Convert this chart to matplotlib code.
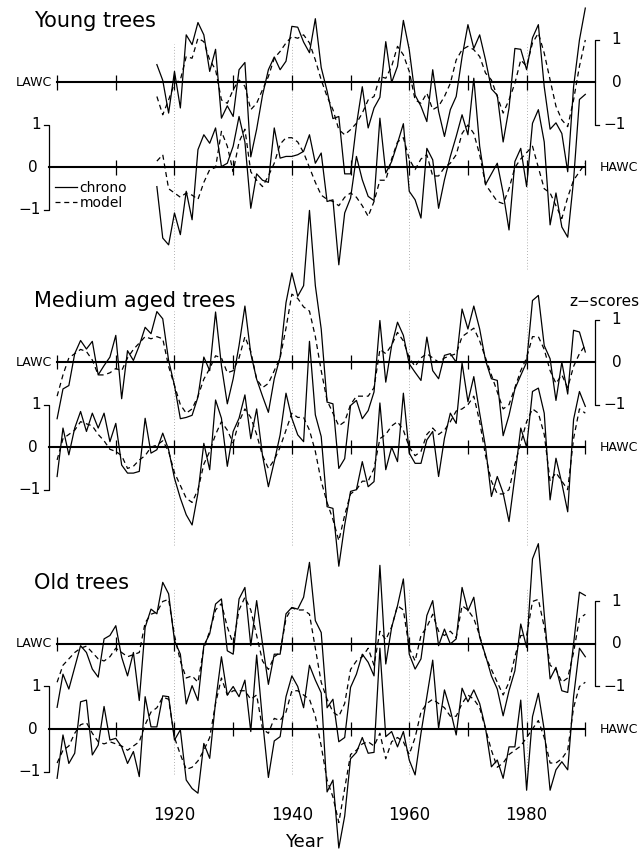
import matplotlib.pyplot as plt
import numpy as np
from matplotlib.lines import Line2D

years = np.arange(1900, 1991)
years_young = np.arange(1917, 1991)

# z-scores
young_lawc_chrono = [
    0.42, 0.05, -0.72, 0.26, -0.60, 1.12, 0.89, 1.41, 1.12, 0.26,
    0.78, -0.84, -0.55, -0.80, 0.30, 0.47, -1.75, -1.10, -0.30, 0.30,
    0.60, 0.30, 0.50, 1.32, 1.30, 0.95, 0.70, 1.50, 0.35, -0.20,
    -0.85, -0.80, -2.15, -2.15, -1.00, -0.10, -1.07, -0.60, -0.35, 0.96,
    0.00, 0.38, 1.46, 0.77, -0.30, -0.56, -0.92, 0.30, -0.68, -1.27,
    -0.64, -0.33, 0.60, 1.36, 0.80, 1.12, 0.53, -0.15, -0.30, -1.40,
    -0.60, 0.80, 0.78, 0.30, 1.05, 1.36, -0.10, -1.10, -0.95, -1.20,
    -2.10, -0.10, 1.00, 1.75]
young_lawc_model = [
    -0.33, -0.76, -0.41, -0.02, 0.06, 0.61, 0.57, 1.04, 0.96, 0.53,
    0.30, -0.41, -0.49, -0.17, 0.06, -0.09, -0.64, -0.49, -0.17, 0.14,
    0.57, 0.73, 0.93, 1.08, 1.04, 1.12, 0.93, 0.53, 0.06, -0.33,
    -0.64, -1.11, -1.23, -1.11, -0.96, -0.72, -0.41, -0.33, 0.14, 0.10,
    0.38, 0.85, 0.65, 0.26, -0.41, -0.49, -0.25, -0.64, -0.56, -0.33,
    -0.02, 0.53, 0.77, 0.85, 0.77, 0.61, 0.22, 0.06, -0.33, -0.72,
    -0.41, -0.02, 0.53, 0.38, 0.93, 1.16, 0.69, 0.06, -0.56, -0.88,
    -1.04, -0.41, 0.38, 1.00]
young_hawc_chrono = [
    -0.45, -1.66, -1.82, -1.07, -1.58, -0.56, -1.23, 0.42, 0.77, 0.57,
    0.93, 0.02, 0.10, 0.50, 1.20, 0.60, -0.96, -0.15, -0.30, -0.35,
    0.93, 0.22, 0.26, 0.26, 0.30, 0.38, 0.77, 0.10, 0.34, -0.80,
    -0.76, -2.29, -1.07, -0.72, 0.26, -0.29, -0.68, -0.78, 1.16, -0.13,
    0.14, 0.57, 1.03, -0.56, -0.76, -1.19, 0.45, 0.18, -0.96, -0.29,
    0.26, 0.73, 1.24, 0.77, 2.10, 0.50, -0.40, -0.15, 0.10, -0.60,
    -1.47, 0.14, 0.45, -0.45, 1.04, 1.36, 0.60, -1.35, -0.60, -1.40,
    -1.64, -0.30, 1.60, 1.72]
young_hawc_model = [
    0.15, 0.30, -0.50, -0.60, -0.70, -0.60, -0.65, -0.75, -0.35, -0.05,
    0.00, 0.85, 0.50, -0.10, 0.60, 0.90, -0.10, -0.30, -0.45, -0.20,
    0.10, 0.55, 0.70, 0.70, 0.60, 0.35, 0.00, -0.35, -0.65, -0.75,
    -0.80, -0.90, -0.70, -0.60, -0.70, -0.90, -1.15, -0.80, -0.30, -0.30,
    0.20, 0.60, 0.70, 0.20, -0.05, 0.20, 0.30, -0.20, -0.20, 0.00,
    0.10, 0.30, 0.80, 1.00, 0.80, 0.30, -0.40, -0.60, -0.80, -0.85,
    -0.50, 0.00, 0.20, 0.35, 0.50, 0.00, -0.50, -0.60, -0.90, -1.20,
    -0.70, -0.30, -0.10, 0.10]

medium_lawc_chrono = [
    -1.33, -0.63, -0.55, 0.20, 0.51, 0.31, 0.49, -0.30, -0.08, 0.12,
    0.63, -0.86, 0.27, 0.04, 0.39, 0.82, 0.67, 1.19, 1.02, 0.04,
    -0.55, -1.33, -1.30, -1.25, -0.82, 0.12, -0.20, 1.18, -0.08, -0.98,
    -0.39, 0.39, 1.32, 0.20, -0.40, -0.80, -1.18, -0.39, 0.12, 1.40,
    2.10, 1.55, 1.80, 3.57, 1.80, 0.78, -0.94, -0.98, -2.50, -2.27,
    -1.02, -0.90, -1.33, -1.14, -0.70, 0.98, -0.47, 0.39, 0.94, 0.63,
    -0.04, -0.24, -0.43, 0.59, -0.20, -0.39, 0.16, 0.20, 0.00, 1.25,
    0.78, 1.32, 0.78, 0.04, -0.39, -0.43, -1.73, -1.25, -0.63, -0.31,
    0.00, 1.45, 1.57, 0.39, 0.08, -0.90, 0.00, -0.75, 0.75, 0.71,
    0.24]
medium_lawc_model = [
    -0.80, -0.30, 0.10, 0.20, 0.30, 0.25, 0.05, -0.30, -0.30, -0.25,
    -0.15, -0.20, 0.10, 0.30, 0.45, 0.60, 0.55, 0.60, 0.55, -0.10,
    -0.55, -1.00, -1.20, -1.10, -0.80, -0.40, -0.15, 0.15, 0.10, -0.25,
    -0.20, 0.10, 0.60, 0.25, -0.40, -0.60, -0.50, -0.20, 0.10, 0.80,
    1.60, 1.50, 1.30, 1.20, 0.60, -0.20, -0.90, -1.20, -1.50, -1.40,
    -1.00, -0.80, -0.80, -0.80, -0.60, 0.30, 0.20, 0.40, 0.70, 0.50,
    0.10, -0.10, 0.10, 0.20, 0.10, 0.00, 0.10, 0.15, 0.20, 0.60,
    0.70, 0.80, 0.50, 0.10, -0.30, -0.70, -1.10, -1.00, -0.60, -0.20,
    0.10, 0.60, 0.60, 0.30, -0.20, -0.50, -0.30, -0.60, -0.10, 0.20,
    0.40]
medium_hawc_chrono = [
    -0.69, 0.45, -0.18, 0.45, 0.84, 0.37, 0.80, 0.45, 0.80, 0.13,
    0.56, -0.42, -0.61, -0.61, -0.57, 0.68, -0.14, -0.06, 0.33, -0.06,
    -0.73, -1.20, -1.59, -1.83, -1.08, 0.09, -0.53, 1.11, 0.68, -0.45,
    0.37, 0.68, 1.23, 0.20, 0.90, -0.20, -0.93, -0.34, 0.29, 1.27,
    0.68, 0.29, 0.13, 2.49, 0.76, 0.25, -1.40, -1.44, -2.80, -1.83,
    -1.04, -1.00, -0.34, -0.93, -0.81, 1.04, -0.53, 0.00, -0.34, 1.27,
    -0.14, -0.38, -0.38, 0.17, 0.37, -0.69, 0.21, 0.80, 0.56, 1.98,
    1.07, 1.66, 0.80, 0.00, -1.16, -0.69, -1.08, -1.75, -0.69, 0.45,
    0.00, 1.31, 1.39, 0.80, -1.24, -0.26, -0.85, -1.52, 0.65, 1.31,
    0.96]
medium_hawc_model = [
    -0.30, 0.20, 0.30, 0.40, 0.60, 0.55, 0.50, 0.30, 0.15, -0.05,
    -0.10, -0.20, -0.50, -0.45, -0.30, -0.20, 0.00, 0.05, 0.15, -0.10,
    -0.60, -0.90, -1.20, -1.30, -1.00, -0.40, -0.10, 0.30, 0.60, 0.40,
    0.10, 0.60, 0.90, 0.70, 0.30, -0.20, -0.50, -0.30, 0.00, 0.40,
    0.80, 0.70, 0.70, 0.40, -0.10, -0.80, -1.30, -1.70, -2.20, -1.60,
    -1.10, -1.00, -0.80, -0.80, -0.50, 0.20, 0.30, 0.50, 0.60, 0.40,
    0.00, -0.20, -0.10, 0.30, 0.45, 0.30, 0.40, 0.60, 0.85, 0.90,
    1.00, 1.20, 0.60, -0.20, -0.80, -1.10, -1.10, -1.00, -0.40, 0.10,
    0.60, 0.90, 0.80, 0.30, -0.80, -0.60, -0.80, -1.00, 0.20, 0.90,
    0.80]

old_lawc_chrono = [
    -1.49, -0.71, -1.06, -0.55, -0.04, -0.20, -0.59, -0.78, 0.12, 0.20,
    0.43, -0.31, -0.75, -0.20, -1.33, 0.39, 0.82, 0.71, 1.45, 1.18,
    0.08, -0.24, -1.41, -0.98, -1.33, -0.04, 0.24, 0.94, 1.06, -0.16,
    -0.24, 1.06, 1.33, -0.04, 1.02, 0.00, -0.95, -0.24, -0.24, 0.71,
    0.86, 0.82, 1.10, 1.92, 0.55, 0.27, -1.50, -1.30, -2.30, -2.20,
    -1.02, -0.71, -0.24, -0.43, -0.75, 1.85, -0.47, 0.39, 0.90, 1.53,
    -0.24, -0.59, -0.35, 0.67, 1.02, -0.04, 0.35, 0.00, 0.12, 1.33,
    0.78, 1.10, 0.16, -0.27, -0.75, -1.06, -1.69, -1.10, -0.63, 0.47,
    -0.08, 2.00, 2.36, 0.70, -0.82, -0.55, -1.10, -1.14, 0.00, 1.22,
    1.14]
old_lawc_model = [
    -0.90, -0.50, -0.35, -0.20, -0.10, -0.05, -0.20, -0.35, -0.40, -0.30,
    -0.10, -0.20, -0.30, -0.25, -0.20, 0.50, 0.70, 0.75, 1.00, 1.05,
    0.20, -0.40, -0.80, -0.75, -0.90, -0.10, 0.30, 0.80, 0.95, 0.40,
    0.00, 0.80, 1.10, 0.80, 0.20, -0.40, -0.60, -0.30, -0.20, 0.60,
    0.85, 0.80, 0.80, 0.70, -0.10, -0.90, -1.30, -1.60, -1.70, -1.40,
    -0.60, -0.40, -0.30, -0.10, -0.50, 0.30, 0.10, 0.40, 0.90, 0.80,
    -0.10, -0.40, 0.20, 0.40, 0.70, 0.30, 0.20, 0.30, 0.15, 0.90,
    0.80, 0.60, 0.20, -0.30, -0.60, -0.90, -1.20, -0.90, -0.30, 0.20,
    0.20, 1.00, 1.05, 0.40, -0.50, -0.60, -0.90, -0.80, -0.20, 0.60,
    0.70]
old_hawc_chrono = [
    -1.16, -0.14, -0.81, -0.57, 0.64, 0.68, -0.61, -0.38, 0.53, -0.26,
    -0.22, -0.42, -0.81, -0.53, -1.12, 0.76, 0.05, 0.05, 0.78, 0.76,
    -0.26, -0.02, -1.20, -1.40, -1.51, -0.34, -0.69, 0.64, 1.70, 0.80,
    1.00, 0.76, 1.15, -0.06, 1.74, 0.20, -1.14, -0.28, -0.18, 0.76,
    1.25, 1.00, 0.50, 1.50, 1.15, 0.85, -1.48, -1.20, -2.80, -2.05,
    -0.70, -0.55, -0.20, -0.57, -0.55, 1.90, -0.18, -0.06, -0.42, -0.06,
    -0.73, -1.08, -0.10, 0.76, 1.62, 0.02, 0.92, 0.45, -0.14, 0.96,
    0.64, 0.92, 0.60, 0.02, -0.89, -0.73, -1.16, -0.42, -0.42, 0.68,
    -1.44, 0.29, 0.84, -0.02, -1.44, -0.96, -0.77, -0.96, 0.76, 1.90,
    1.70]
old_hawc_model = [
    -0.80, -0.50, -0.40, -0.10, 0.10, 0.15, -0.10, -0.30, -0.35, -0.30,
    -0.35, -0.40, -0.50, -0.40, -0.30, 0.10, 0.40, 0.50, 0.75, 0.70,
    -0.20, -0.60, -0.95, -0.90, -0.75, -0.50, -0.20, 0.60, 1.20, 0.80,
    0.90, 0.90, 0.90, 0.70, 0.80, 0.00, -0.10, 0.25, 0.20, 0.40,
    0.90, 0.90, 0.80, 0.70, 0.30, -0.40, -1.20, -1.60, -2.20, -1.40,
    -0.60, -0.50, -0.35, -0.30, -0.40, -0.10, -0.70, -0.30, -0.20, -0.30,
    -0.60, -0.20, 0.40, 0.60, 0.70, 0.60, 0.50, 0.30, 0.30, 0.60,
    0.80, 0.70, 0.50, 0.00, -0.50, -0.90, -0.80, -0.60, -0.50, -0.40,
    -0.20, 0.00, 0.20, -0.20, -0.80, -0.80, -0.70, -0.50, 0.50, 1.00,
    1.10]

# (title, HAWC zero level, dotted line extent, years, LAWC chrono/model, HAWC chrono/model)
panels = [
    ('Young trees', 13.21, (2.9, -2.4), years_young,
     young_lawc_chrono, young_lawc_model, young_hawc_chrono, young_hawc_model),
    ('Medium aged trees', 6.63, (3.2, -2.3), years,
     medium_lawc_chrono, medium_lawc_model, medium_hawc_chrono, medium_hawc_model),
    ('Old trees', 0.0, (3.3, -1.05), years,
     old_lawc_chrono, old_lawc_model, old_hawc_chrono, old_hawc_model),
]
offset = 2.0  # LAWC curves are drawn 2 z-units above HAWC

fig = plt.figure(figsize=(6.44, 8.51), dpi=100)
ax = fig.add_axes([0, 0, 1, 1])
ax.set_xlim(1890.27, 2000.0)
ax.set_ylim(-2.87, 17.15)
ax.axis('off')

lw = 0.9
dash = (0, (4, 3))
decades = np.arange(1910, 1990, 10)

for title, base, (top, bottom), yrs, lc, lm, hc, hm in panels:
    lawc = base + offset
    ax.vlines([1920, 1940, 1960, 1980], base + bottom, base + top,
              colors='0.6', linestyles=(0, (1, 2.5)), lw=0.6)

    # zero lines with decade ticks
    ax.plot([1900, 1991.6], [lawc, lawc], color='k', lw=1.5)
    ax.plot([1898.6, 1990], [base, base], color='k', lw=1.5)
    ax.vlines(np.append(decades, 1900), lawc - 0.17, lawc + 0.17, colors='k', lw=lw)
    ax.vlines(np.append(decades, 1990), base - 0.17, base + 0.17, colors='k', lw=lw)

    ax.plot(yrs, lawc + np.array(lm), color='k', lw=lw, linestyle=dash)
    ax.plot(yrs, lawc + np.array(lc), color='k', lw=lw)
    ax.plot(yrs, base + np.array(hm), color='k', lw=lw, linestyle=dash)
    ax.plot(yrs, base + np.array(hc), color='k', lw=lw)

    # scale brackets
    ax.plot([1897.8, 1898.6, 1898.6, 1897.8], [base + 1, base + 1, base - 1, base - 1],
            color='k', lw=lw)
    ax.plot([1992.4, 1991.6, 1991.6, 1992.4], [lawc + 1, lawc + 1, lawc - 1, lawc - 1],
            color='k', lw=lw)
    ax.text(1897.3, base + 1, '1', ha='right', va='center', fontsize=11)
    ax.text(1896.6, base, '0', ha='right', va='center', fontsize=11)
    ax.text(1897.3, base - 1, '\u22121', ha='right', va='center', fontsize=11)
    ax.text(1995.3, lawc + 1, '1', ha='center', va='center', fontsize=11)
    ax.text(1995.3, lawc, '0', ha='center', va='center', fontsize=11)
    ax.text(1995.0, lawc - 1, '\u22121', ha='center', va='center', fontsize=11)

    ax.text(1899.1, lawc, 'LAWC', ha='right', va='center', fontsize=9)
    ax.text(1992.4, base, 'HAWC', ha='left', va='center', fontsize=9)
    ax.text(1896.0, lawc + 1.3, title, ha='left', va='baseline', fontsize=15)

ax.text(1993.2, panels[1][1] + offset + 1.31, 'z\u2212scores', ha='center', va='baseline',
        fontsize=11)

for yr in [1920, 1940, 1960, 1980]:
    ax.text(yr, -2.02, str(yr), ha='center', va='center', fontsize=12)
ax.text(1942.1, -2.66, 'Year', ha='center', va='center', fontsize=13)

handles = [Line2D([], [], color='k', lw=lw),
           Line2D([], [], color='k', lw=lw, linestyle=dash)]
ax.legend(handles, ['chrono', 'model'], loc='upper left', bbox_to_anchor=(0.085, 0.787),
          frameon=False, fontsize=10, handlelength=1.6, handletextpad=0.2,
          labelspacing=0.05, borderpad=0, borderaxespad=0)

fig.savefig('out.png', dpi=100)
